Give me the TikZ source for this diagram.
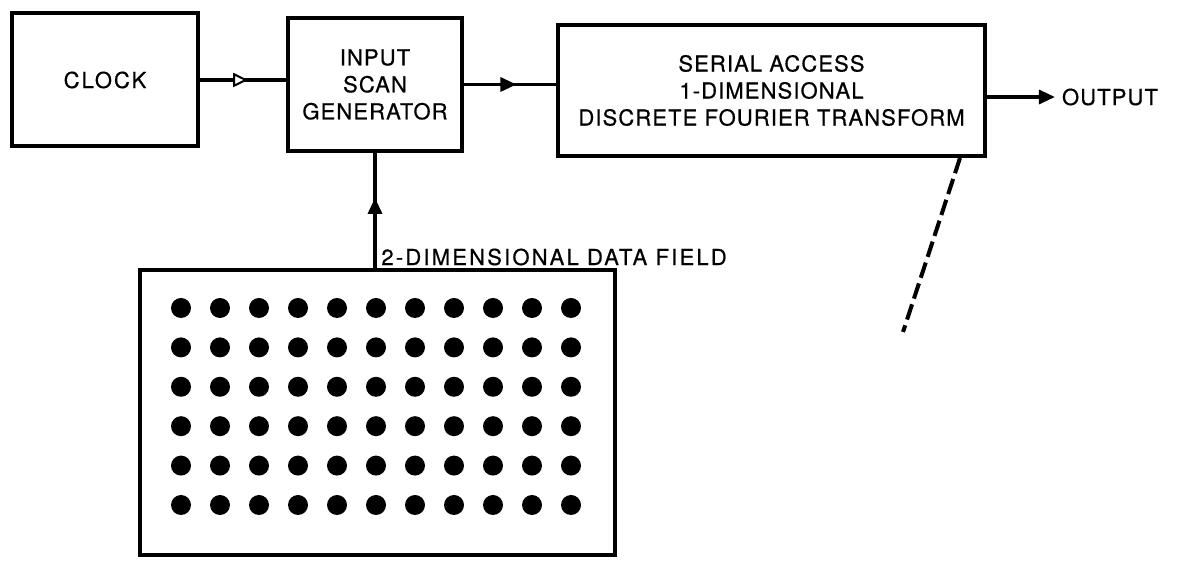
\documentclass[tikz,border=0pt]{standalone}
\usepackage{fontspec}
\setmainfont{TeX Gyre Heros}[LetterSpace=5,FakeBold=0.6]
\usetikzlibrary{arrows.meta,decorations.markings}

\begin{document}
\begin{tikzpicture}[x=0.5pt, y=-0.5pt,
    blk/.style={draw, line width=2pt, inner sep=0pt, align=center,
        font=\fontsize{11}{13.5}\selectfont},
    wire/.style={line width=1.6pt},
    tipat/.style={postaction={decorate}, decoration={markings,
        mark=at position #1 with {\arrow{Triangle[length=8pt,width=7pt]}}}},
    opentipat/.style={postaction={decorate}, decoration={markings,
        mark=at position #1 with {\arrow{Triangle[open,fill=white,length=7.5pt,width=7pt,line width=1pt]}}}},
    lbl/.style={font=\fontsize{11}{13.5}\selectfont}]
    \useasboundingbox (0,0) rectangle (1178,565);

    \node[blk, minimum width=93pt, minimum height=66.5pt] (clock) at (105,80) {\addfontfeature{LetterSpace=9}CLOCK};
    \node[blk, minimum width=87pt, minimum height=66.5pt] (isg) at (375,84.5) {INPUT\\SCAN\\GENERATOR};
    \node[blk, minimum width=213.5pt, minimum height=65.5pt] (dft) at (771.5,90.5)
        {SERIAL ACCESS\\1-DIMENSIONAL\\DISCRETE FOURIER TRANSFORM};

    \node[lbl] (out) at (1110,97) {OUTPUT};

    %%%%%%%%%%%%%%%%%%%%%%%%%%%%%%%%%%%%%%%%%%%%%%%%%%%%%%

    \draw[wire, opentipat=0.56] (clock.east) -- (clock.east -| isg.west);
    \draw[wire, tipat=0.57] (isg.east) -- (isg.east -| dft.west);
    \draw[wire, -{Triangle[length=8pt,width=7pt]}] (dft.east |- out) -- (out.west);

    %%%%%%%%%%%%%%%%%%%%%%%%%%%%%%%%%%%%%%%%%%%%%%%%%%%%%%

    \node[blk, minimum width=237.5pt, minimum height=142.5pt] (field) at (377.5,412.5) {};
    \foreach \i in {0,...,10}
        \foreach \j in {0,...,5}
            \fill (181+39*\i, 308+39.4*\j) circle (5pt);

    \node[lbl, anchor=west, inner sep=1pt] (fieldlbl) at (379,257) {\addfontfeature{LetterSpace=10}2-DIMENSIONAL DATA FIELD};
    \draw[wire, tipat=0.61] (isg.south |- field.north) -- (isg.south);

    % pen stroke under the transform box
    \draw[line width=2pt, dash pattern=on 8pt off 3pt] (960,158) -- (903,332);
\end{tikzpicture}
\end{document}
